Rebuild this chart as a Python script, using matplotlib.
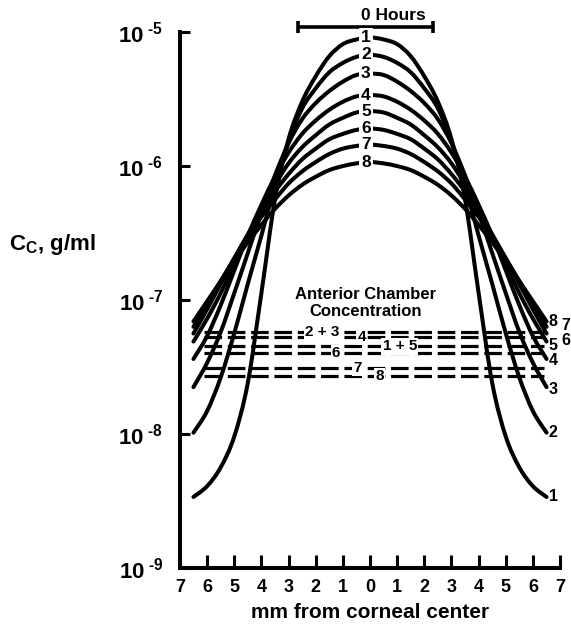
import numpy as np
import matplotlib
matplotlib.use("Agg")
import matplotlib.pyplot as plt
from matplotlib.path import Path
from matplotlib.patches import PathPatch
from matplotlib.ticker import FixedLocator, FuncFormatter

plt.rcParams["font.family"] = ["Liberation Sans", "DejaVu Sans"]
plt.rcParams["font.weight"] = "bold"
plt.rcParams["mathtext.fontset"] = "custom"
plt.rcParams["mathtext.rm"] = "Liberation Sans:bold"
plt.rcParams["mathtext.default"] = "rm"

# Distance from the corneal centre (mm), one half of the symmetric profile
half_x = [0.0, 0.5, 1.0, 1.5, 2.0, 2.5, 3.0, 3.5, 4.0, 4.5, 5.0, 5.5, 6.0, 6.5]

# log10 of corneal concentration (g/ml) at each half_x, for hours 1..8
log_c_hour1 = [-5.04, -5.055, -5.09, -5.18, -5.33, -5.52, -5.80, -6.25, -6.95, -7.62, -8.02, -8.25, -8.39, -8.47]
log_c_hour2 = [-5.17, -5.185, -5.23, -5.30, -5.42, -5.57, -5.82, -6.15, -6.52, -6.88, -7.25, -7.58, -7.83, -7.99]
log_c_hour3 = [-5.31, -5.32, -5.37, -5.44, -5.53, -5.65, -5.83, -6.07, -6.35, -6.65, -6.95, -7.24, -7.47, -7.65]
log_c_hour4 = [-5.47, -5.48, -5.52, -5.58, -5.66, -5.76, -5.90, -6.08, -6.29, -6.52, -6.78, -7.04, -7.27, -7.44]
log_c_hour5 = [-5.59, -5.60, -5.64, -5.69, -5.77, -5.86, -5.98, -6.14, -6.32, -6.52, -6.73, -6.95, -7.14, -7.31]
log_c_hour6 = [-5.72, -5.73, -5.76, -5.80, -5.87, -5.95, -6.06, -6.19, -6.34, -6.51, -6.69, -6.88, -7.07, -7.25]
log_c_hour7 = [-5.84, -5.85, -5.87, -5.91, -5.97, -6.04, -6.13, -6.25, -6.38, -6.53, -6.69, -6.86, -7.03, -7.20]
log_c_hour8 = [-5.97, -5.98, -6.00, -6.03, -6.08, -6.14, -6.22, -6.32, -6.44, -6.57, -6.71, -6.86, -7.01, -7.16]
corneal_profiles = [log_c_hour1, log_c_hour2, log_c_hour3, log_c_hour4,
                    log_c_hour5, log_c_hour6, log_c_hour7, log_c_hour8]
hour_labels = ["1", "2", "3", "4", "5", "6", "7", "8"]

# Anterior chamber concentration levels (g/ml)
ac_labels = ["2 + 3", "4", "1 + 5", "6", "7", "8"]
ac_conc = [5.8e-8, 5.3e-8, 4.5e-8, 4.0e-8, 3.1e-8, 2.7e-8]
ac_label_x = [-1.75, -0.3, 1.1, -1.25, -0.45, 0.35]
ac_span = [-6.1, 6.4]

# Initial drug deposit region at 0 hours (mm)
deposit_span = [-2.66, 2.33]

# Right-hand end labels: (text, x, log10 y)
end_labels = [("1", 6.75, -8.47), ("2", 6.75, -7.99), ("3", 6.75, -7.67),
              ("4", 6.75, -7.45), ("5", 6.75, -7.34), ("6", 7.2, -7.30),
              ("8", 6.75, -7.16), ("7", 7.2, -7.19)]

x_ticks = list(range(-7, 8))
y_ticks = [1e-9, 1e-8, 1e-7, 1e-6, 1e-5]


def smooth_curve(xs, log_ys):
    """Cubic Bezier path through the points (Catmull-Rom tangents in log space)."""
    pts = np.column_stack([xs, log_ys])
    n = len(pts)
    verts = [pts[0]]
    codes = [Path.MOVETO]
    for i in range(n - 1):
        p0 = pts[i - 1] if i > 0 else pts[i]
        p1, p2 = pts[i], pts[i + 1]
        p3 = pts[i + 2] if i + 2 < n else pts[i + 1]
        verts += [p1 + (p2 - p0) / 6.0, p2 - (p3 - p1) / 6.0, p2]
        codes += [Path.CURVE4] * 3
    verts = np.array(verts)
    verts[:, 1] = 10.0 ** verts[:, 1]
    return Path(verts, codes)


fig = plt.figure(figsize=(5.71, 6.26), dpi=100)
ax = fig.add_axes([0.315, 0.0927, 0.666, 0.856])
ax.set_yscale("log")
ax.set_xlim(-7, 7)
ax.set_ylim(1e-9, 1e-5)

LW = 2.9
hx = np.array(half_x)
for prof, lab in zip(corneal_profiles, hour_labels):
    p = np.array(prof)
    xs = np.concatenate([-hx[::-1], hx[1:]])
    ys = np.concatenate([p[::-1], p[1:]])
    ax.add_patch(PathPatch(smooth_curve(xs, ys), fill=False, ec="black",
                           lw=LW, capstyle="round", joinstyle="round",
                           zorder=2))
    ax.text(-0.15, 10.0 ** prof[0], lab, ha="center", va="center",
            fontsize=12.5, fontweight="bold", zorder=5,
            bbox=dict(boxstyle="square,pad=0.12", fc="white", ec="none"))

for lab, c, lx in zip(ac_labels, ac_conc, ac_label_x):
    ax.plot(ac_span, [c, c], color="black", lw=2.3, dashes=(5.5, 1.8),
            zorder=3)
    ax.text(lx, c, lab, ha="center", va="center", fontsize=11,
            fontweight="bold", zorder=5,
            bbox=dict(boxstyle="square,pad=0.08", fc="white", ec="none"))

ax.text(-0.15, 10 ** -7.02, "Anterior Chamber\nConcentration", ha="center",
        va="center", fontsize=12, fontweight="bold", linespacing=1.2)

for lab, x, ly in end_labels:
    ax.text(x, 10 ** ly, lab, ha="center", va="center", fontsize=11.5,
            fontweight="bold", clip_on=False)

# 0 hours bar above the axes
bar_y = 10 ** -4.963
ax.plot(deposit_span, [bar_y, bar_y], color="black", lw=2.6, clip_on=False,
        solid_capstyle="butt")
for xe in deposit_span:
    ax.plot([xe, xe], [10 ** -4.92, 10 ** -5.005], color="black", lw=2.6,
            clip_on=False, solid_capstyle="butt")
ax.text(0.86, 10 ** -4.875, "0 Hours", ha="center", va="center",
        fontsize=12.5, fontweight="bold", clip_on=False)

ax.spines["top"].set_visible(False)
ax.spines["right"].set_visible(False)
for s in ("left", "bottom"):
    ax.spines[s].set_linewidth(2.9)

ax.xaxis.set_major_locator(FixedLocator(x_ticks))
ax.xaxis.set_major_formatter(FuncFormatter(lambda v, p: f"{abs(int(round(v)))}"))
ax.yaxis.set_major_locator(FixedLocator(y_ticks))
ax.yaxis.set_minor_locator(FixedLocator([]))
ax.yaxis.set_major_formatter(FuncFormatter(
    lambda v, p: r"10$^{\;\text{-%d}}$" % abs(int(round(np.log10(v))))))
ax.tick_params(axis="x", direction="in", length=9.5, width=2.2, labelsize=13,
               pad=8)
ax.tick_params(axis="y", direction="in", length=7, width=2.2, labelsize=16,
               pad=12)

fig.text(0.016, 0.61, r"C$_\mathregular{C}$, g/ml", fontsize=16,
         fontweight="bold", va="center", ha="left")
ax.set_xlabel("mm from corneal center", fontsize=15, fontweight="bold",
              labelpad=5)

fig.savefig("out.png", dpi=100)
